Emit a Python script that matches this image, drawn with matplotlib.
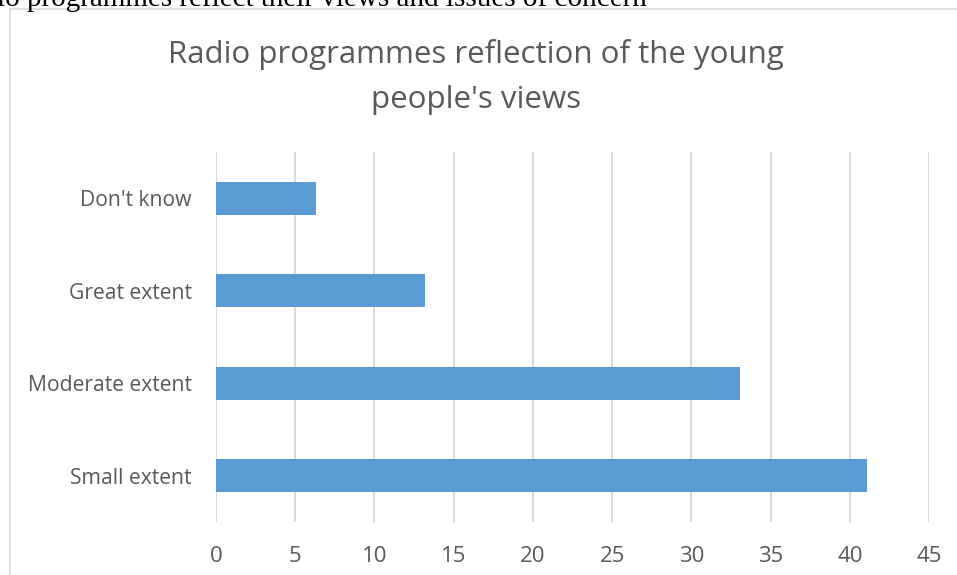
import matplotlib
matplotlib.use("Agg")
import matplotlib.pyplot as plt
from matplotlib.lines import Line2D

categories = ["Small extent", "Moderate extent", "Great extent", "Don't know"]
values = [41.1, 33.1, 13.2, 6.3]
x_ticks = [0, 5, 10, 15, 20, 25, 30, 35, 40, 45]

W, H = 957, 575
fig = plt.figure(figsize=(W / 100, H / 100), dpi=100)
fig.patch.set_facecolor("white")

def fx(px):
    return px / W

def fy(py):
    return 1 - py / H

# Document text running above the chart frame
fig.text(fx(-3), fy(6), "io programmes reflect their views and issues of concern",
         family="Liberation Serif", fontsize=21, color="black",
         ha="left", va="baseline")

# Chart frame
frame_col = "#d9d9d9"
fig.add_artist(Line2D([fx(10), fx(10)], [fy(9), fy(H + 5)], color=frame_col, lw=1.2))
fig.add_artist(Line2D([fx(10), fx(W + 5)], [fy(9), fy(9)], color=frame_col, lw=1.2))

ax = fig.add_axes([fx(216), fy(522), fx(929) - fx(216), fy(152) - fy(522)])
ax.set_xlim(0, 45)
ax.set_ylim(-0.5, len(categories) - 0.5)

ax.barh(range(len(categories)), values, height=0.355, color="#5b9bd5", zorder=3)

ax.set_xticks(x_ticks)
ax.set_yticks(range(len(categories)))
ax.set_yticklabels(categories)
ax.grid(axis="x", color=frame_col, lw=1.4, zorder=0)
for s in ax.spines.values():
    s.set_visible(False)
ax.tick_params(axis="both", length=0, colors="#595959")
ax.tick_params(axis="x", pad=17, labelsize=16)
ax.tick_params(axis="y", pad=17.5, labelsize=15.2)
for lab in ax.get_xticklabels() + ax.get_yticklabels():
    lab.set_family("Open Sans")

fig.text(fx(476), fy(55), "Radio programmes reflection of the young", family="Open Sans",
         fontsize=22.5, color="#595959", ha="center", va="center")
fig.text(fx(476), fy(100), "people's views", family="Open Sans",
         fontsize=22.5, color="#595959", ha="center", va="center")

fig.savefig("out.png", dpi=100, facecolor="white")
